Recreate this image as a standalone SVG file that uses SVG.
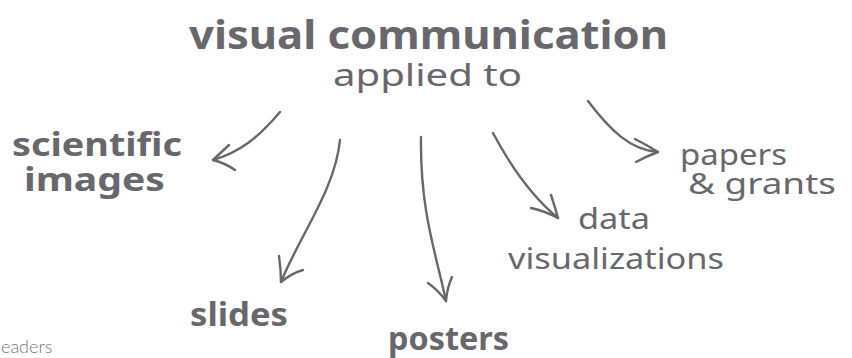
<svg xmlns="http://www.w3.org/2000/svg" width="852" height="358" viewBox="0 0 852 358">
<style>
.t{font-family:"Noto Sans","Open Sans",sans-serif;fill:#68686c}
.b{font-weight:bold}
.c{fill:none;stroke:#68686c;stroke-width:2.4;stroke-linecap:round;stroke-linejoin:round}
.f{font-family:"Lato","Noto Sans",sans-serif;font-weight:300;fill:#777}
</style>
<rect width="852" height="358" fill="#fff"/>
<g id="title">
<text class="t b" x="189" y="49" font-size="39" textLength="479" lengthAdjust="spacingAndGlyphs">visual communication</text>
<text class="t" x="333" y="86" font-size="31" textLength="189" lengthAdjust="spacingAndGlyphs">applied to</text>
</g>
<g id="scientific-images">
<text class="t b" x="12" y="156" font-size="32" textLength="170" lengthAdjust="spacingAndGlyphs">scientific</text>
<text class="t b" x="24" y="191" font-size="32" textLength="141" lengthAdjust="spacingAndGlyphs">images</text>
</g>
<g id="slides">
<text class="t b" x="190" y="326" font-size="32" textLength="98" lengthAdjust="spacingAndGlyphs">slides</text>
</g>
<g id="posters">
<text class="t b" x="388" y="350" font-size="32" textLength="121" lengthAdjust="spacingAndGlyphs">posters</text>
</g>
<g id="data-visualizations">
<text class="t" x="578" y="229" font-size="29" textLength="72" lengthAdjust="spacingAndGlyphs">data</text>
<text class="t" x="508" y="269" font-size="29" textLength="216" lengthAdjust="spacingAndGlyphs">visualizations</text>
</g>
<g id="papers-grants">
<text class="t" x="680" y="165" font-size="29" textLength="107" lengthAdjust="spacingAndGlyphs">papers</text>
<text class="t" x="688" y="194" font-size="29" textLength="148" lengthAdjust="spacingAndGlyphs">&amp; grants</text>
</g>
<g id="footer">
<text class="f" x="1" y="353" font-size="18">eaders</text>
</g>
<g id="connectors">
<path class="c" d="M280,112 C258,138 240,152 213,160"/>
<path class="c" d="M229,145 L213,160 Q225,163 235,170"/>
<path class="c" d="M340,140 C335,190 300,235 281,282"/>
<path class="c" d="M279,256 Q281,270 281,282 Q292,273 303,270"/>
<path class="c" d="M421,137 C420,210 435,250 446,301"/>
<path class="c" d="M428,283 Q438,290 446,301 Q447,288 452,277"/>
<path class="c" d="M493,133 C510,165 530,195 558,218"/>
<path class="c" d="M551,195 Q555,207 558,218 Q545,211 531,208"/>
<path class="c" d="M588,101 C610,130 630,150 658,152"/>
<path class="c" d="M635,139 Q647,145 658,152 Q647,156 636,162"/>
</g>
</svg>
